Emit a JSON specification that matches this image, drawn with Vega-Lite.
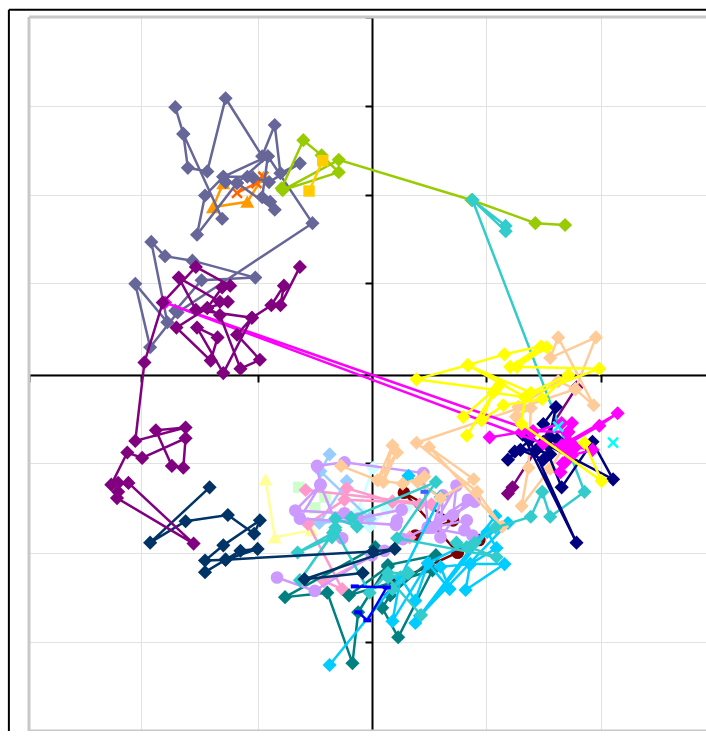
{"$schema":"https://vega.github.io/schema/vega-lite/v6.json","width":677,"height":714,"autosize":"none","padding":{"left":29,"top":17,"right":0,"bottom":0},"background":"white","view":{"stroke":null},
"datasets":{
"greyV":[{"x":-3,"y":4,"y2":-4}],
"greyH":[{"x":-3,"x2":2.923,"y":4},{"x":-3,"x2":2.923,"y":-4}],
"blackV":[{"x":-3.176,"y":4.08,"y2":-4.3}],
"blackH":[{"x":-3.176,"x2":2.923,"y":4.08}],
"orange":[{"t":1,"x":-1.3,"y":2.14},{"t":2,"x":-1.39,"y":1.87},{"t":3,"x":-1.09,"y":1.93},{"t":4,"x":-0.95,"y":2.21}],
"orangeX":[{"t":1,"x":-1.18,"y":2.03},{"t":2,"x":-1.01,"y":2.14},{"t":3,"x":-0.95,"y":2.21}],
"slate":[{"t":1,"x":-1.31,"y":1.74},{"t":2,"x":-1.65,"y":2.69},{"t":3,"x":-1.72,"y":2.99},{"t":4,"x":-1.65,"y":2.69},{"t":5,"x":-1.61,"y":2.31},{"t":6,"x":-1.44,"y":2.27},{"t":7,"x":-1.28,"y":3.09},{"t":8,"x":-0.96,"y":2.44},{"t":9,"x":-0.85,"y":2.79},{"t":10,"x":-0.8,"y":2.25},{"t":11,"x":-0.63,"y":2.36},{"t":12,"x":-0.9,"y":2.15},{"t":13,"x":-1.04,"y":2.2},{"t":14,"x":-1.09,"y":2.21},{"t":15,"x":-1.3,"y":2.21},{"t":16,"x":-1.28,"y":2.15},{"t":17,"x":-1.18,"y":2.14},{"t":18,"x":-0.91,"y":2.44},{"t":19,"x":-0.96,"y":1.98},{"t":20,"x":-0.89,"y":1.93},{"t":21,"x":-0.85,"y":1.84},{"t":22,"x":-1.18,"y":2.14},{"t":23,"x":-1.53,"y":1.56},{"t":24,"x":-1.46,"y":2.0},{"t":25,"x":-1.3,"y":2.21},{"t":26,"x":-0.91,"y":2.44},{"t":27,"x":-0.52,"y":1.69},{"t":28,"x":-1.7,"y":0.69},{"t":29,"x":-1.94,"y":0.3},{"t":30,"x":-2.07,"y":1.01},{"t":31,"x":-1.79,"y":0.58},{"t":32,"x":-1.93,"y":1.48},{"t":33,"x":-1.81,"y":1.32},{"t":34,"x":-1.57,"y":1.27},{"t":35,"x":-1.02,"y":1.08},{"t":36,"x":-1.49,"y":1.05},{"t":37,"x":-1.72,"y":0.71}],
"green":[{"t":1,"x":-0.79,"y":2.08},{"t":2,"x":-0.6,"y":2.62},{"t":3,"x":-0.44,"y":2.45},{"t":4,"x":-0.29,"y":2.26},{"t":5,"x":-0.78,"y":2.06},{"t":6,"x":-0.29,"y":2.4},{"t":7,"x":0.87,"y":1.95},{"t":8,"x":1.43,"y":1.69},{"t":9,"x":1.69,"y":1.67}],
"gold":[{"t":1,"x":-0.43,"y":2.39},{"t":2,"x":-0.55,"y":2.05}],
"darkred":[{"t":1,"x":0.38,"y":-1.81},{"t":2,"x":0.71,"y":-1.64},{"t":3,"x":0.28,"y":-1.33},{"t":4,"x":0.75,"y":-2.0},{"t":5,"x":0.94,"y":-1.86},{"t":6,"x":0.75,"y":-2.0},{"t":7,"x":0.2,"y":-2.33}],
"paleyellow":[{"t":1,"x":-0.93,"y":-1.18},{"t":2,"x":-0.85,"y":-1.83},{"t":3,"x":-0.53,"y":-1.75}],
"lightgreen":[{"t":1,"x":-0.64,"y":-1.27},{"t":2,"x":-0.41,"y":-1.38},{"t":3,"x":-0.5,"y":-1.5}],
"palecyan":[{"t":1,"x":0.01,"y":-1.05},{"t":2,"x":-0.13,"y":-1.56},{"t":3,"x":-0.08,"y":-1.56},{"t":4,"x":-0.02,"y":-1.71},{"t":5,"x":0.13,"y":-1.52},{"t":6,"x":0.31,"y":-1.49}],
"lightblue":[{"t":1,"x":-0.37,"y":-0.9},{"t":2,"x":-0.45,"y":-1.09},{"t":3,"x":-0.02,"y":-1.62},{"t":4,"x":-0.46,"y":-1.67},{"t":5,"x":-0.22,"y":-1.2}],
"pink":[{"t":1,"x":-0.58,"y":-1.3},{"t":2,"x":0.52,"y":-1.46},{"t":3,"x":0.42,"y":-1.46},{"t":4,"x":0.18,"y":-1.43},{"t":5,"x":-0.22,"y":-1.28},{"t":6,"x":0.18,"y":-1.43},{"t":7,"x":-0.24,"y":-1.41},{"t":8,"x":-0.56,"y":-1.68},{"t":9,"x":-0.26,"y":-2.41},{"t":10,"x":-0.42,"y":-2.32},{"t":11,"x":0.33,"y":-1.83}],
"teal":[{"t":1,"x":0.03,"y":-1.94},{"t":2,"x":-0.76,"y":-2.5},{"t":3,"x":-0.39,"y":-2.45},{"t":4,"x":-0.17,"y":-3.24},{"t":5,"x":-0.12,"y":-2.67},{"t":6,"x":0.14,"y":-2.14},{"t":7,"x":0.56,"y":-2.03},{"t":8,"x":0.16,"y":-2.48},{"t":9,"x":0.09,"y":-2.62},{"t":10,"x":0.23,"y":-2.95},{"t":11,"x":0.53,"y":-2.2},{"t":12,"x":-0.2,"y":-2.48},{"t":13,"x":0.14,"y":-2.16}],
"lavender":[{"t":1,"x":-0.83,"y":-2.28},{"t":2,"x":-0.5,"y":-2.43},{"t":3,"x":0,"y":-2.03},{"t":4,"x":0.11,"y":-1.98},{"t":5,"x":0.27,"y":-1.85},{"t":6,"x":0.49,"y":-1.72},{"t":7,"x":0.71,"y":-1.58},{"t":8,"x":0.74,"y":-1.25},{"t":9,"x":0.53,"y":-1.72},{"t":10,"x":0.62,"y":-1.36},{"t":11,"x":0.6,"y":-1.83},{"t":12,"x":0.84,"y":-1.41},{"t":13,"x":0.49,"y":-1.72},{"t":14,"x":0.9,"y":-1.43},{"t":15,"x":0.53,"y":-1.72},{"t":16,"x":0.83,"y":-1.64},{"t":17,"x":0.81,"y":-1.75},{"t":18,"x":0.88,"y":-1.81},{"t":19,"x":0.49,"y":-1.72},{"t":20,"x":0.45,"y":-1.11},{"t":21,"x":-0.24,"y":-0.99},{"t":22,"x":-0.48,"y":-1.03},{"t":23,"x":-0.45,"y":-1.24},{"t":24,"x":-0.63,"y":-1.62},{"t":25,"x":0.21,"y":-1.69},{"t":26,"x":0.22,"y":-1.64},{"t":27,"x":0.26,"y":-1.52},{"t":28,"x":-0.12,"y":-1.62},{"t":29,"x":-0.24,"y":-1.56},{"t":30,"x":-0.67,"y":-1.53},{"t":31,"x":-0.45,"y":-1.24},{"t":32,"x":-0.26,"y":-1.84}],
"sky":[{"t":1,"x":-0.37,"y":-3.26},{"t":2,"x":0.25,"y":-2.28},{"t":3,"x":0.18,"y":-2.77},{"t":4,"x":0.49,"y":-2.12},{"t":5,"x":0.68,"y":-2.41},{"t":6,"x":0.6,"y":-2.16},{"t":8,"x":0.86,"y":-2.13},{"t":9,"x":0.82,"y":-2.42},{"t":10,"x":1.16,"y":-2.13},{"t":11,"x":0.86,"y":-2.13},{"t":12,"x":1.09,"y":-1.95},{"t":13,"x":1.01,"y":-1.77},{"t":14,"x":0.38,"y":-2.79},{"t":15,"x":1.08,"y":-1.59},{"t":16,"x":0.42,"y":-2.71},{"t":17,"x":1.19,"y":-1.67},{"t":18,"x":0.49,"y":-2.12},{"t":19,"x":0.38,"y":-2.54},{"t":20,"x":0.25,"y":-2.28},{"t":21,"x":0.6,"y":-1.38},{"t":22,"x":0.32,"y":-1.14}],
"purple2":[{"t":1,"x":1.23,"y":-1.27},{"t":2,"x":1.19,"y":-1.34},{"t":3,"x":1.79,"y":-0.15}],
"peach":[{"t":1,"x":-0.27,"y":-1.03},{"t":2,"x":0.05,"y":-1.19},{"t":3,"x":0.18,"y":-0.8},{"t":4,"x":0.1,"y":-1.21},{"t":5,"x":0.22,"y":-0.88},{"t":6,"x":0.05,"y":-1.19},{"t":7,"x":0.27,"y":-1.23},{"t":8,"x":0.46,"y":-1.15},{"t":9,"x":0.4,"y":-1.21},{"t":10,"x":0.6,"y":-1.39},{"t":11,"x":0.89,"y":-1.18},{"t":12,"x":0.5,"y":-0.82},{"t":13,"x":1.14,"y":-1.71},{"t":14,"x":0.92,"y":-1.32},{"t":15,"x":0.39,"y":-0.77},{"t":16,"x":1.78,"y":-0.17},{"t":17,"x":1.94,"y":-0.35},{"t":18,"x":1.63,"y":0.41},{"t":19,"x":1.56,"y":0.18},{"t":20,"x":1.96,"y":0.41},{"t":21,"x":1.78,"y":-0.17},{"t":22,"x":1.63,"y":-0.08},{"t":23,"x":1.28,"y":-0.37},{"t":24,"x":1.26,"y":-0.48},{"t":25,"x":1.39,"y":-0.38},{"t":26,"x":1.37,"y":-1.05},{"t":27,"x":1.31,"y":-1.48},{"t":28,"x":1.56,"y":-1.06},{"t":29,"x":1.72,"y":-0.74}],
"turquoise":[{"t":1,"x":0.88,"y":1.95},{"t":2,"x":1.17,"y":1.66},{"t":3,"x":1.17,"y":1.6},{"t":4,"x":0.88,"y":1.95},{"t":5,"x":1.86,"y":-1.32},{"t":6,"x":1.56,"y":-1.6},{"t":7,"x":1.49,"y":-1.32},{"t":8,"x":1.39,"y":-1.6},{"t":9,"x":1.08,"y":-1.72},{"t":10,"x":0.9,"y":-1.89},{"t":11,"x":0.83,"y":-1.94},{"t":12,"x":0.74,"y":-1.89},{"t":13,"x":1.09,"y":-2.05},{"t":14,"x":0.22,"y":-1.84},{"t":15,"x":0.56,"y":-1.21},{"t":16,"x":-0.18,"y":-1.61},{"t":17,"x":-0.13,"y":-1.71},{"t":18,"x":-0.32,"y":-1.62},{"t":19,"x":-0.32,"y":-1.72},{"t":20,"x":-0.35,"y":-1.83},{"t":21,"x":-0.65,"y":-2.0},{"t":22,"x":-0.34,"y":-1.78},{"t":23,"x":-0.63,"y":-2.31},{"t":24,"x":-0.32,"y":-1.75},{"t":25,"x":-0.02,"y":-2.45},{"t":26,"x":0.14,"y":-2.23},{"t":27,"x":0.32,"y":-2.23},{"t":28,"x":0.18,"y":-2.41},{"t":29,"x":0.31,"y":-2.23},{"t":30,"x":0.14,"y":-2.28},{"t":31,"x":0.43,"y":-2.7}],
"darknavy":[{"t":1,"x":-1.42,"y":-1.27},{"t":2,"x":-1.94,"y":-1.89},{"t":3,"x":-1.63,"y":-1.65},{"t":4,"x":-1.26,"y":-1.58},{"t":5,"x":-1.03,"y":-1.79},{"t":6,"x":-0.98,"y":-1.64},{"t":7,"x":-1.3,"y":-1.92},{"t":8,"x":-1.46,"y":-2.09},{"t":9,"x":-1.28,"y":-2.08},{"t":10,"x":-1.0,"y":-1.96},{"t":11,"x":-1.15,"y":-1.98},{"t":12,"x":-1.46,"y":-2.22},{"t":13,"x":-1.28,"y":-2.08},{"t":14,"x":0.01,"y":-1.99},{"t":15,"x":0.2,"y":-1.96},{"t":16,"x":-0.59,"y":-2.3},{"t":17,"x":-0.08,"y":-2.23}],
"blue":[{"t":1,"x":-0.15,"y":-2.38},{"t":2,"x":0.13,"y":-2.39},{"t":3,"x":-0.04,"y":-2.76},{"t":4,"x":-0.12,"y":-2.67}],
"smallblue":[{"t":1,"x":0.46,"y":-1.32}],
"navy":[{"t":1,"x":1.32,"y":-0.68},{"t":2,"x":1.79,"y":-1.89},{"t":3,"x":1.38,"y":-0.74},{"t":4,"x":1.19,"y":-0.96},{"t":5,"x":1.25,"y":-0.87},{"t":6,"x":1.44,"y":-0.85},{"t":7,"x":1.3,"y":-0.85},{"t":8,"x":1.5,"y":-0.96},{"t":9,"x":1.56,"y":-0.9},{"t":10,"x":1.44,"y":-0.85},{"t":11,"x":1.56,"y":-0.71},{"t":12,"x":1.62,"y":-0.73},{"t":13,"x":1.5,"y":-0.76},{"t":14,"x":1.66,"y":-1.27},{"t":15,"x":1.93,"y":-0.76},{"t":16,"x":2.11,"y":-1.18},{"t":17,"x":1.54,"y":-0.8},{"t":18,"x":1.61,"y":-0.37},{"t":19,"x":1.5,"y":-0.56}],
"magenta":[{"t":1,"x":1.03,"y":-0.71},{"t":2,"x":1.31,"y":-0.65},{"t":3,"x":1.4,"y":-0.66},{"t":4,"x":1.66,"y":-0.55},{"t":5,"x":1.75,"y":-0.55},{"t":6,"x":1.71,"y":-0.66},{"t":7,"x":1.72,"y":-0.76},{"t":8,"x":1.78,"y":-0.82},{"t":9,"x":1.93,"y":-0.85},{"t":10,"x":1.75,"y":-0.91},{"t":11,"x":1.71,"y":-0.87},{"t":12,"x":1.67,"y":-1.0},{"t":13,"x":1.65,"y":-1.1},{"t":14,"x":1.69,"y":-0.99},{"t":15,"x":1.72,"y":-0.65},{"t":16,"x":1.41,"y":-0.64},{"t":17,"x":-1.81,"y":0.8},{"t":18,"x":1.5,"y":-0.78},{"t":19,"x":1.69,"y":-0.8},{"t":20,"x":1.99,"y":-0.58},{"t":21,"x":2.15,"y":-0.44},{"t":22,"x":1.66,"y":-0.8}],
"purple":[{"t":1,"x":-0.63,"y":1.2},{"t":2,"x":-0.8,"y":0.77},{"t":3,"x":-0.77,"y":0.99},{"t":4,"x":-0.88,"y":0.77},{"t":5,"x":-1.05,"y":0.63},{"t":6,"x":-1.3,"y":0.01},{"t":7,"x":-1.53,"y":0.52},{"t":8,"x":-1.35,"y":0.41},{"t":9,"x":-1.41,"y":0.15},{"t":10,"x":-1.71,"y":0.52},{"t":11,"x":-1.44,"y":0.74},{"t":12,"x":-1.33,"y":0.66},{"t":13,"x":-1.15,"y":0.06},{"t":14,"x":-0.98,"y":0.16},{"t":15,"x":-1.18,"y":0.44},{"t":16,"x":-1.05,"y":0.63},{"t":17,"x":-1.54,"y":0.72},{"t":18,"x":-1.69,"y":1.08},{"t":19,"x":-1.33,"y":0.81},{"t":20,"x":-1.26,"y":0.81},{"t":21,"x":-1.44,"y":0.74},{"t":22,"x":-1.31,"y":0.97},{"t":23,"x":-1.24,"y":0.99},{"t":24,"x":-1.54,"y":1.2},{"t":25,"x":-1.83,"y":0.8},{"t":26,"x":-1.99,"y":0.13},{"t":27,"x":-2.07,"y":-0.75},{"t":28,"x":-1.63,"y":-0.6},{"t":29,"x":-1.89,"y":-0.63},{"t":30,"x":-1.75,"y":-1.03},{"t":31,"x":-1.65,"y":-1.05},{"t":32,"x":-1.63,"y":-0.72},{"t":33,"x":-2.01,"y":-0.94},{"t":34,"x":-2.14,"y":-0.88},{"t":35,"x":-2.28,"y":-1.24},{"t":36,"x":-2.22,"y":-1.22},{"t":37,"x":-2.22,"y":-1.32},{"t":38,"x":-2.23,"y":-1.39},{"t":39,"x":-1.56,"y":-1.9},{"t":40,"x":-2.13,"y":-1.22}],
"yellow":[{"t":1,"x":0.8,"y":-0.48},{"t":2,"x":1.12,"y":-0.12},{"t":3,"x":0.83,"y":-0.69},{"t":4,"x":1.08,"y":-0.18},{"t":5,"x":0.39,"y":-0.06},{"t":6,"x":0.84,"y":0.1},{"t":7,"x":1.16,"y":0.22},{"t":8,"x":1.48,"y":0.31},{"t":9,"x":1.21,"y":0.08},{"t":10,"x":1.53,"y":0.3},{"t":11,"x":1.27,"y":0.08},{"t":12,"x":1.99,"y":0.06},{"t":13,"x":1.34,"y":-0.26},{"t":14,"x":0.84,"y":0.1},{"t":15,"x":1.39,"y":-0.21},{"t":16,"x":1.72,"y":-0.01},{"t":17,"x":1.49,"y":-0.28},{"t":18,"x":1.15,"y":-0.35},{"t":19,"x":0.96,"y":-0.52},{"t":20,"x":1.06,"y":-0.21},{"t":21,"x":1.34,"y":-0.26},{"t":22,"x":1.31,"y":-0.56},{"t":23,"x":2.01,"y":-1.2},{"t":24,"x":1.86,"y":-0.77}],
"cyanX":[{"t":1,"x":1.63,"y":-0.59},{"t":2,"x":2.11,"y":-0.77}]
},
"encoding":{
"x":{"field":"x","type":"quantitative","scale":{"domain":[-3,2.923],"nice":false,"zero":false},"axis":{"orient":"bottom","offset":-356,"values":[-3,-2.02,-1,0,1,2],"title":null,"labels":false,"grid":true,"gridColor":"#e2e2e2","gridWidth":1,"ticks":true,"tickColor":"#000000","tickSize":7,"tickWidth":2,"domainColor":"#000000","domainWidth":2}},
"y":{"field":"y","type":"quantitative","scale":{"domain":[-4,4],"nice":false,"zero":false},"axis":{"orient":"left","offset":-343,"values":[-4,-3,-2,-1,0,1.02,2.01,3,4],"title":null,"labels":false,"grid":true,"gridColor":"#e2e2e2","gridWidth":1,"ticks":true,"tickColor":"#000000","tickSize":7,"tickWidth":2,"domainColor":"#000000","domainWidth":2}}
},
"layer":[
{"data":{"name":"greyV"},"mark":{"type":"rule","color":"#c8c8c8","strokeWidth":3},"encoding":{"y2":{"field":"y2"}}},
{"data":{"name":"greyH"},"mark":{"type":"rule","color":"#c8c8c8","strokeWidth":3},"encoding":{"x2":{"field":"x2"}}},
{"data":{"name":"blackV"},"mark":{"type":"rule","color":"#000000","strokeWidth":2},"encoding":{"y2":{"field":"y2"}}},
{"data":{"name":"blackH"},"mark":{"type":"rule","color":"#000000","strokeWidth":2},"encoding":{"x2":{"field":"x2"}}},
{"data":{"name":"orange"},"layer":[{"mark":{"type":"line","color":"#ff9900","strokeWidth":2.5},"encoding":{"order":{"field":"t"}}},{"mark":{"type":"point","filled":true,"opacity":1,"shape":"triangle-up","size":200,"color":"#ff9900"}}]},
{"data":{"name":"orangeX"},"layer":[{"mark":{"type":"line","color":"#ff6600","strokeWidth":2.5},"encoding":{"order":{"field":"t"}}},{"mark":{"type":"point","filled":false,"opacity":1,"shape":"M-1,-1L1,1M-1,1L1,-1","size":100,"strokeWidth":2.5,"color":"#ff6600"}}]},
{"data":{"name":"slate"},"layer":[{"mark":{"type":"line","color":"#666699","strokeWidth":2.5},"encoding":{"order":{"field":"t"}}},{"mark":{"type":"point","filled":true,"opacity":1,"shape":"diamond","size":200,"color":"#666699"}}]},
{"data":{"name":"green"},"layer":[{"mark":{"type":"line","color":"#99cc00","strokeWidth":2.5},"encoding":{"order":{"field":"t"}}},{"mark":{"type":"point","filled":true,"opacity":1,"shape":"diamond","size":200,"color":"#99cc00"}}]},
{"data":{"name":"gold"},"layer":[{"mark":{"type":"line","color":"#ffcc00","strokeWidth":2.5},"encoding":{"order":{"field":"t"}}},{"mark":{"type":"point","filled":true,"opacity":1,"shape":"square","size":130,"color":"#ffcc00"}}]},
{"data":{"name":"darkred"},"layer":[{"mark":{"type":"line","color":"#800000","strokeWidth":2.5},"encoding":{"order":{"field":"t"}}},{"mark":{"type":"point","filled":true,"opacity":1,"shape":"circle","size":160,"color":"#800000"}}]},
{"data":{"name":"paleyellow"},"layer":[{"mark":{"type":"line","color":"#ffff99","strokeWidth":2.5},"encoding":{"order":{"field":"t"}}},{"mark":{"type":"point","filled":true,"opacity":1,"shape":"triangle-up","size":200,"color":"#ffff99"}}]},
{"data":{"name":"lightgreen"},"mark":{"type":"point","filled":true,"opacity":1,"shape":"square","size":130,"color":"#ccffcc"}},
{"data":{"name":"palecyan"},"layer":[{"mark":{"type":"line","color":"#ccffff","strokeWidth":2.5},"encoding":{"order":{"field":"t"}}},{"mark":{"type":"point","filled":true,"opacity":1,"shape":"diamond","size":200,"color":"#ccffff"}}]},
{"data":{"name":"lightblue"},"layer":[{"mark":{"type":"line","color":"#99ccff","strokeWidth":2.5},"encoding":{"order":{"field":"t"}}},{"mark":{"type":"point","filled":true,"opacity":1,"shape":"diamond","size":200,"color":"#99ccff"}}]},
{"data":{"name":"pink"},"layer":[{"mark":{"type":"line","color":"#ff99cc","strokeWidth":2.5},"encoding":{"order":{"field":"t"}}},{"mark":{"type":"point","filled":true,"opacity":1,"shape":"diamond","size":200,"color":"#ff99cc"}}]},
{"data":{"name":"teal"},"layer":[{"mark":{"type":"line","color":"#008080","strokeWidth":2.5},"encoding":{"order":{"field":"t"}}},{"mark":{"type":"point","filled":true,"opacity":1,"shape":"diamond","size":200,"color":"#008080"}}]},
{"data":{"name":"lavender"},"layer":[{"mark":{"type":"line","color":"#cc99ff","strokeWidth":2.5},"encoding":{"order":{"field":"t"}}},{"mark":{"type":"point","filled":true,"opacity":1,"shape":"circle","size":160,"color":"#cc99ff"}}]},
{"data":{"name":"sky"},"layer":[{"mark":{"type":"line","color":"#00ccff","strokeWidth":2.5},"encoding":{"order":{"field":"t"}}},{"mark":{"type":"point","filled":true,"opacity":1,"shape":"diamond","size":200,"color":"#00ccff"}}]},
{"data":{"name":"purple2"},"layer":[{"mark":{"type":"line","color":"#800080","strokeWidth":2.5},"encoding":{"order":{"field":"t"}}},{"mark":{"type":"point","filled":true,"opacity":1,"shape":"diamond","size":200,"color":"#800080"}}]},
{"data":{"name":"peach"},"layer":[{"mark":{"type":"line","color":"#ffcc99","strokeWidth":2.5},"encoding":{"order":{"field":"t"}}},{"mark":{"type":"point","filled":true,"opacity":1,"shape":"diamond","size":200,"color":"#ffcc99"}}]},
{"data":{"name":"turquoise"},"layer":[{"mark":{"type":"line","color":"#33cccc","strokeWidth":2.5},"encoding":{"order":{"field":"t"}}},{"mark":{"type":"point","filled":true,"opacity":1,"shape":"diamond","size":200,"color":"#33cccc"}}]},
{"data":{"name":"darknavy"},"layer":[{"mark":{"type":"line","color":"#003366","strokeWidth":2.5},"encoding":{"order":{"field":"t"}}},{"mark":{"type":"point","filled":true,"opacity":1,"shape":"diamond","size":200,"color":"#003366"}}]},
{"data":{"name":"blue"},"layer":[{"mark":{"type":"line","color":"#0000ff","strokeWidth":2.5},"encoding":{"order":{"field":"t"}}},{"mark":{"type":"point","filled":true,"opacity":1,"shape":"M-1,-0.5H1V0.5H-1Z","size":64,"color":"#0000ff"}}]},
{"data":{"name":"smallblue"},"mark":{"type":"point","filled":true,"opacity":1,"shape":"M-1,-0.5H1V0.5H-1Z","size":64,"color":"#3366ff"}},
{"data":{"name":"navy"},"layer":[{"mark":{"type":"line","color":"#000080","strokeWidth":2.5},"encoding":{"order":{"field":"t"}}},{"mark":{"type":"point","filled":true,"opacity":1,"shape":"diamond","size":200,"color":"#000080"}}]},
{"data":{"name":"magenta"},"layer":[{"mark":{"type":"line","color":"#ff00ff","strokeWidth":2.5},"encoding":{"order":{"field":"t"}}},{"mark":{"type":"point","filled":true,"opacity":1,"shape":"diamond","size":200,"color":"#ff00ff"}}]},
{"data":{"name":"purple"},"layer":[{"mark":{"type":"line","color":"#800080","strokeWidth":2.5},"encoding":{"order":{"field":"t"}}},{"mark":{"type":"point","filled":true,"opacity":1,"shape":"diamond","size":200,"color":"#800080"}}]},
{"data":{"name":"yellow"},"layer":[{"mark":{"type":"line","color":"#ffff00","strokeWidth":2.5},"encoding":{"order":{"field":"t"}}},{"mark":{"type":"point","filled":true,"opacity":1,"shape":"diamond","size":200,"color":"#ffff00"}}]},
{"data":{"name":"cyanX"},"mark":{"type":"point","filled":false,"opacity":1,"shape":"M-1,-1L1,1M-1,1L1,-1","size":100,"strokeWidth":2.5,"color":"#00ffff"}}
]}
